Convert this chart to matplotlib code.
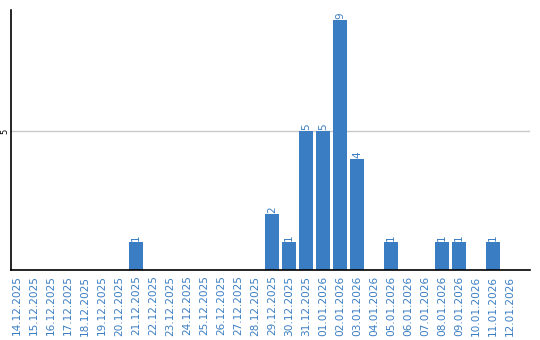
import matplotlib
matplotlib.use("Agg")
import matplotlib.pyplot as plt
import datetime as dt

start = dt.date(2025, 12, 14)
dates = [(start + dt.timedelta(days=i)).strftime("%d.%m.%Y") for i in range(30)]
counts_by_date = {
    "21.12.2025": 1, "29.12.2025": 2, "30.12.2025": 1, "31.12.2025": 5,
    "01.01.2026": 5, "02.01.2026": 9, "03.01.2026": 4, "05.01.2026": 1,
    "08.01.2026": 1, "09.01.2026": 1, "11.01.2026": 1,
}
values = [counts_by_date.get(d, 0) for d in dates]

blue = "#3a7dc2"
fig = plt.figure(figsize=(5.4, 3.4), dpi=100)
ax = fig.add_axes([11/540, 1 - 270/340, (530 - 11)/540, (270 - 10)/340])

x = list(range(len(dates)))
ax.bar(x, values, width=0.82, color=blue, zorder=2)
for xi, v in zip(x, values):
    if v > 0:
        ax.text(xi, v + 0.04, str(v), rotation=90, ha="center", va="bottom",
                color=blue, fontsize=7.5, family="DejaVu Sans")

ax.set_xlim(-0.35, 30.18)
ax.set_ylim(0, 9.35)
ax.set_yticks([5])
ax.set_yticklabels(["5"], rotation=90, va="center", fontsize=6)
ax.yaxis.grid(True, color="#c8c8c8", linewidth=1, zorder=0)
ax.set_xticks(x)
ax.set_xticklabels(dates, rotation=90, color=blue, fontsize=7.6)
ax.tick_params(axis="x", length=0, pad=4)
ax.tick_params(axis="y", length=0, pad=1)
for s in ["top", "right"]:
    ax.spines[s].set_visible(False)
for s in ["left", "bottom"]:
    ax.spines[s].set_color("black")
    ax.spines[s].set_linewidth(1.2)

fig.savefig("out.png", dpi=100)
